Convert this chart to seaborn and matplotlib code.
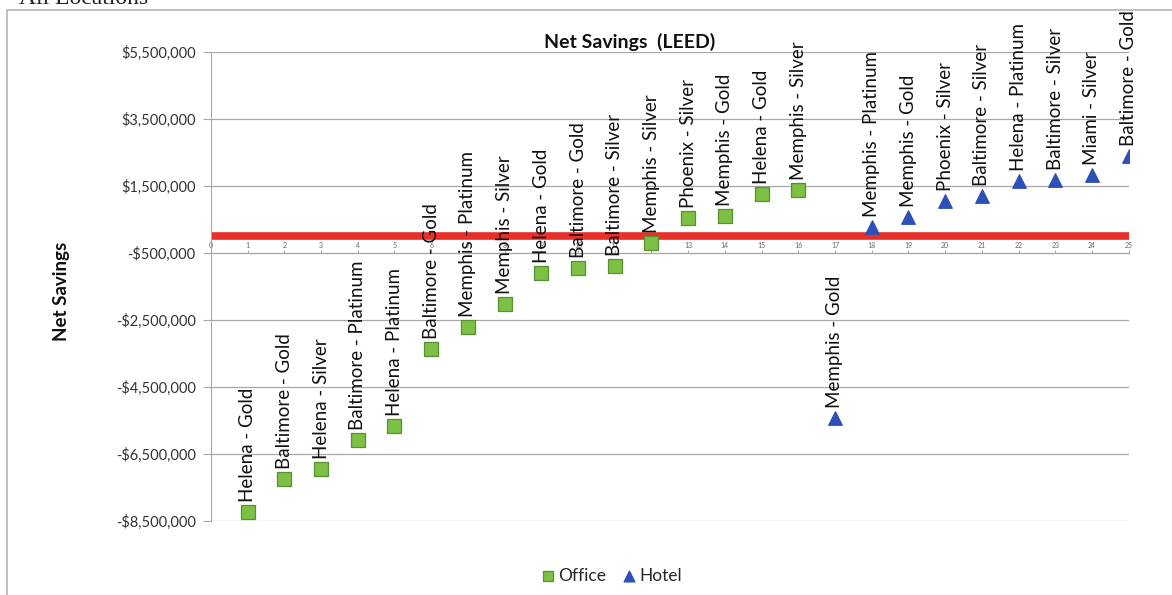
import matplotlib
matplotlib.use("Agg")
import matplotlib.pyplot as plt
from matplotlib.patches import Rectangle
from matplotlib.ticker import FuncFormatter
import pandas as pd
import seaborn as sns

# project number (x position), savings, building type and label
project = list(range(1, 26))
savings = [-8230000, -7250000, -6950000, -6080000, -5660000, -3370000, -2710000,
           -2020000, -1100000, -950000, -890000, -200000, 540000, 600000,
           1260000, 1380000,
           -5430000, 280000, 570000, 1050000, 1200000, 1650000, 1680000,
           1830000, 2400000]
building = ["Office"] * 16 + ["Hotel"] * 9
labels = ["Helena - Gold", "Baltimore - Gold", "Helena - Silver", "Baltimore - Platinum",
          "Helena - Platinum", "Baltimore - Gold", "Memphis - Platinum", "Memphis - Silver",
          "Helena - Gold", "Baltimore - Gold", "Baltimore - Silver", "Memphis - Silver",
          "Phoenix - Silver", "Memphis - Gold", "Helena - Gold", "Memphis - Silver",
          "Memphis - Gold", "Memphis - Platinum", "Memphis - Gold", "Phoenix - Silver",
          "Baltimore - Silver", "Helena - Platinum", "Baltimore - Silver", "Miami - Silver",
          "Baltimore - Gold"]
y_ticks = [-8500000, -6500000, -4500000, -2500000, -500000, 1500000, 3500000, 5500000]
break_even = 0

df = pd.DataFrame({"project": project, "savings": savings, "type": building, "label": labels})

sns.set_style("white")
plt.rcParams["font.family"] = ["Lato", "DejaVu Sans"]

fig = plt.figure(figsize=(11.72, 5.95), dpi=100)
ax = fig.add_axes([0.180, 0.1244, 0.783, 0.7882])

# outer frame of the original slide
fig.patches.append(Rectangle((0.006, -0.1), 1.1, 1.083, transform=fig.transFigure,
                             fill=False, edgecolor="#b5b5b5", linewidth=1.2))
fig.text(0.016, 0.994, "All Locations", family=["Liberation Serif", "DejaVu Serif"],
         fontsize=17, va="baseline", ha="left", color="#222222")

ax.axhline(break_even, color="#e8302a", linewidth=5.5, zorder=2)

styles = {"Office": ("s", "#7cc143", "#5b8f33"), "Hotel": ("^", "#2f4fb8", "#2f4fb8")}
for kind, (mk, fc, ec) in styles.items():
    sub = df[df["type"] == kind]
    sns.scatterplot(data=sub, x="project", y="savings", marker=mk, color=fc,
                    edgecolor=ec, linewidth=0.9, s=95, zorder=4, label=kind, ax=ax)

for _, r in df.iterrows():
    ax.annotate(r["label"], (r["project"], r["savings"]), xytext=(0, 7),
                textcoords="offset points", rotation=90, ha="center", va="bottom",
                fontsize=13.5, color="#111111", zorder=5)

ax.set_xlim(0, 25)
ax.set_ylim(-8500000, 5500000)
ax.set_yticks(y_ticks)
ax.yaxis.set_major_formatter(FuncFormatter(
    lambda v, p: ("-$" if v < 0 else "$") + f"{abs(int(v)):,}"))
ax.set_xticks(range(0, 26))
ax.grid(axis="y", color="#a8a8a8", linewidth=0.9)
ax.set_axisbelow(True)

for s in ["top", "right"]:
    ax.spines[s].set_visible(False)
ax.spines["left"].set_color("#a8a8a8")
ax.spines["bottom"].set_position(("data", -500000))
ax.spines["bottom"].set_color("#a8a8a8")
ax.tick_params(axis="y", left=True, length=6, color="#a8a8a8", labelsize=10.5,
               labelcolor="#333333", pad=5)
ax.tick_params(axis="x", bottom=True, direction="in", length=2, color="#a8a8a8",
               labelsize=5, labelcolor="#666666", pad=-8)

ax.set_xlabel("")
ax.set_ylabel("Net Savings", fontsize=13.5, fontweight="bold", color="#111111")
ax.yaxis.set_label_coords(-0.154, 0.49)
ax.set_title("Net Savings  (LEED)", fontsize=14, fontweight="bold", x=0.456,
             pad=3, color="#111111")

handles, leg_labels = ax.get_legend_handles_labels()
ax.legend(handles=handles, labels=leg_labels, loc="center", ncol=2, frameon=False,
          bbox_to_anchor=(0.436, -0.117), fontsize=12.5, handlelength=0.8,
          handletextpad=0.2, columnspacing=0.9, markerscale=0.8)

fig.savefig("out.png", dpi=100)
